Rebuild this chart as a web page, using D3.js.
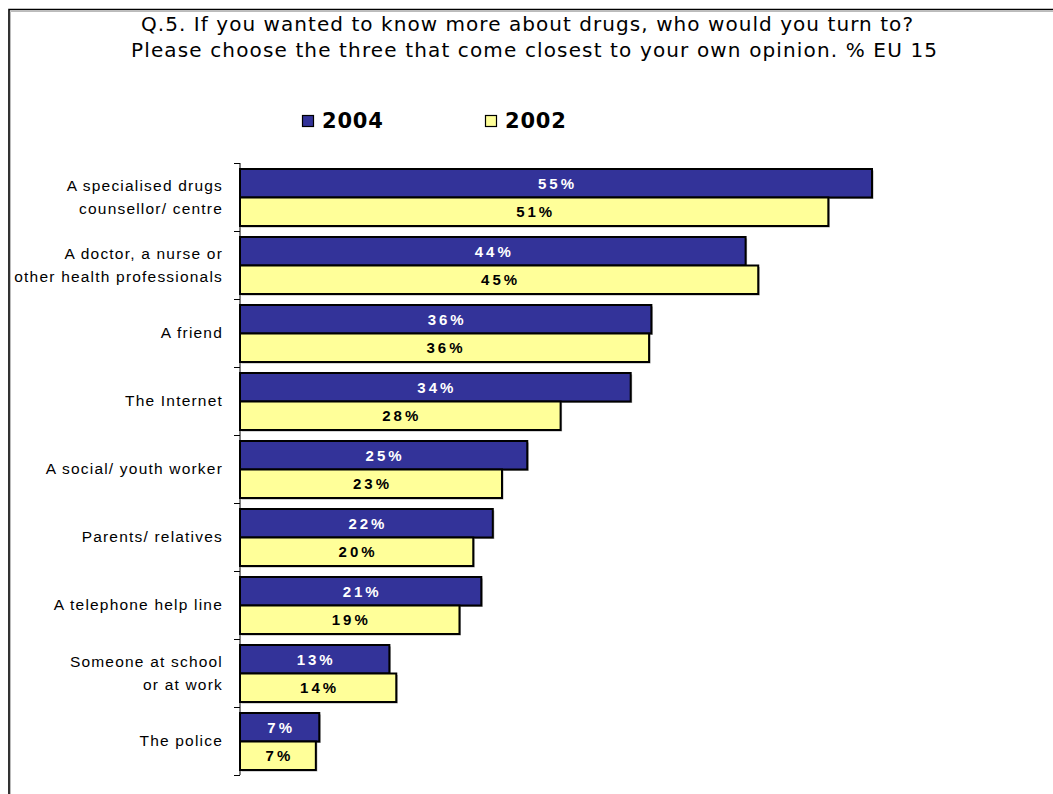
<!DOCTYPE html>
<html><head><meta charset="utf-8">
<script src="https://cdn.jsdelivr.net/npm/d3@7"></script>
<style>body{margin:0;background:#fff}svg{display:block}</style>
</head><body>
<script>
const categories = [
  ["A specialised drugs","counsellor/ centre"],
  ["A doctor, a nurse or","other health professionals"],
  ["A friend"],
  ["The Internet"],
  ["A social/ youth worker"],
  ["Parents/ relatives"],
  ["A telephone help line"],
  ["Someone at school","or at work"],
  ["The police"]
];
const series = ["2004","2002"];
const values2004 = [55, 44, 35.8, 34, 25, 22, 21, 13, 6.9];
const values2002 = [51.2, 45.1, 35.6, 27.9, 22.8, 20.3, 19.1, 13.6, 6.6];
const colors = ["#333399","#FFFF99"];
const labelColors = ["#ffffff","#000000"];
const titleLines = ["Q.5. If you wanted to know more about drugs, who would you turn to?",
  "Please choose the three that come closest to your own opinion. % EU 15"];

const W = 1053, H = 794;
const svg = d3.select("body").append("svg").attr("width", W).attr("height", H);

// frame
svg.append("path").attr("d","M9.5,800 V10.5 H1060").attr("fill","none").attr("stroke","#bbb").attr("stroke-width",1).attr("transform","translate(1,1)");
svg.append("path").attr("d","M9,800 V9.5 H1060").attr("fill","none").attr("stroke","#000").attr("stroke-width",1.6);

// title
const tw = [772, 806];
const tx = [527, 534];
svg.selectAll("text.title").data(titleLines).enter().append("text")
  .attr("class","title")
  .attr("x", (d,i)=>tx[i]).attr("y", (d,i)=> 31 + i*26)
  .attr("text-anchor","middle")
  .attr("font-family","'DejaVu Sans', Verdana, sans-serif")
  .attr("font-size", 20)
  .attr("textLength", (d,i)=>tw[i]).attr("lengthAdjust","spacing")
  .attr("fill","#000")
  .text(d=>d);

// legend
const legX = [302, 485];
const leg = svg.selectAll("g.leg").data(series).enter().append("g").attr("class","leg")
  .attr("transform",(d,i)=>`translate(${legX[i]},115)`);
leg.append("rect").attr("x",0.5).attr("y",0.5).attr("width",11).attr("height",11)
  .attr("fill",(d,i)=>colors[i]).attr("stroke","#000").attr("stroke-width",1.2);
leg.append("text").attr("x",20).attr("y",13)
  .attr("font-family","DejaVu Sans, Verdana, sans-serif").attr("font-weight","bold")
  .attr("font-size",21).attr("letter-spacing",0.8).text(d=>d);

// scales
const idx = d3.range(categories.length);
const y = d3.scaleBand().domain(idx).range([163, 775]).padding(0);
const ySub = d3.scaleBand().domain(series).range([6, y.bandwidth()-5]).padding(0);
const x = d3.scaleLinear().domain([0, 55]).range([240, 872]);

// axis
const ag = svg.append("g");
ag.append("line").attr("x1",240).attr("x2",240).attr("y1",163).attr("y2",775).attr("stroke","#000").attr("stroke-width",1);
ag.selectAll("line.tk").data(d3.range(categories.length+1)).enter().append("line")
  .attr("x1",234).attr("x2",240)
  .attr("y1",i=> i<categories.length ? y(i)+0.5 : y(categories.length-1)+y.bandwidth()+0.5)
  .attr("y2",i=> i<categories.length ? y(i)+0.5 : y(categories.length-1)+y.bandwidth()+0.5)
  .attr("stroke","#000").attr("stroke-width",1);

// category labels
const cl = svg.selectAll("g.cat").data(categories).enter().append("g")
  .attr("transform",(d,i)=>`translate(223,${y(i)+y.bandwidth()/2})`);
cl.each(function(lines){
  const g = d3.select(this);
  const n = lines.length, lh = 23;
  lines.forEach((t,j)=>{
    g.append("text").attr("x",0).attr("y",(j-(n-1)/2)*lh + (n===1?4.5:5.5))
      .attr("text-anchor","end")
      .attr("font-family","Liberation Sans, Arial, sans-serif")
      .attr("font-size",15.5).attr("letter-spacing",1.2).attr("fill","#000").text(t);
  });
});

// bars
const rows = idx.map(i=>({i, vals:[values2004[i], values2002[i]]}));
const grp = svg.selectAll("g.row").data(rows).enter().append("g")
  .attr("transform",d=>`translate(0,${y(d.i)})`);
series.forEach((s,k)=>{
  grp.append("rect")
    .attr("x", x(0)+1.5).attr("y", ySub(s)+1.5)
    .attr("width", d=>x(d.vals[k])-x(0)).attr("height", ySub.bandwidth())
    .attr("fill","#aaa");
});
series.forEach((s,k)=>{
  grp.append("rect")
    .attr("x", x(0)).attr("y", ySub(s))
    .attr("width", d=>x(d.vals[k])-x(0)).attr("height", ySub.bandwidth())
    .attr("fill", colors[k]).attr("stroke","#000").attr("stroke-width",2);
  grp.append("text")
    .attr("x", d=>(x(0)+x(d.vals[k]))/2 + 1.5).attr("y", ySub(s)+ySub.bandwidth()/2+5.5)
    .attr("text-anchor","middle")
    .attr("font-family","Liberation Sans, Arial, sans-serif").attr("font-weight","bold")
    .attr("font-size",15).attr("letter-spacing",3).attr("fill",labelColors[k])
    .text(d=>Math.round(d.vals[k])+"%");
});
</script>
</body></html>
